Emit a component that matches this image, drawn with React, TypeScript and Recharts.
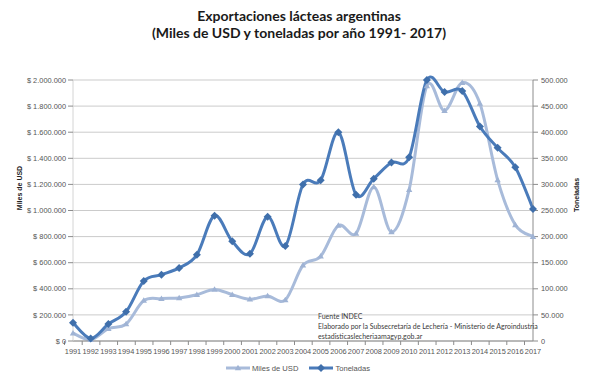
import React from 'react';
import {
  LineChart,
  Line,
  XAxis,
  YAxis,
  CartesianGrid,
  Legend,
  Label,
} from 'recharts';

const years = [
  '1991', '1992', '1993', '1994', '1995', '1996', '1997', '1998', '1999',
  '2000', '2001', '2002', '2003', '2004', '2005', '2006', '2007', '2008',
  '2009', '2010', '2011', '2012', '2013', '2014', '2015', '2016', '2017',
];

// Miles de USD (eje izquierdo)
const milesUsd = [
  60000, 10000, 95000, 130000, 310000, 325000, 330000, 355000, 395000,
  355000, 320000, 345000, 315000, 580000, 650000, 885000, 825000, 1180000,
  835000, 1160000, 1955000, 1765000, 1980000, 1820000, 1235000, 890000, 800000,
];

// Toneladas (eje derecho)
const toneladas = [
  35000, 5000, 32500, 56000, 115000, 127000, 140000, 165000, 240000,
  191000, 167000, 238000, 182000, 300000, 308000, 400000, 280000, 311000,
  342000, 352000, 500000, 477000, 479000, 411000, 370000, 333000, 253000,
];

const usdTicks = [0, 200000, 400000, 600000, 800000, 1000000, 1200000, 1400000, 1600000, 1800000, 2000000];
const tonTicks = [0, 50000, 100000, 150000, 200000, 250000, 300000, 350000, 400000, 450000, 500000];

const LIGHT = '#a8bbda';
const DARK = '#4a7bba';
const FONT = '"Liberation Sans", Arial, sans-serif';

const data = years.map((year, i) => ({
  year,
  usd: milesUsd[i],
  ton: toneladas[i],
}));

const dots = (v: number) => String(v).replace(/\B(?=(\d{3})+(?!\d))/g, '.');

// smoothing similar to the spreadsheet's "smoothed line" (catmull-rom)
function smoothCurve(context: any) {
  let pts: number[][] = [];
  return {
    areaStart() {},
    areaEnd() {},
    lineStart() {
      pts = [];
    },
    point(x: number, y: number) {
      pts.push([+x, +y]);
    },
    lineEnd() {
      if (!pts.length) return;
      context.moveTo(pts[0][0], pts[0][1]);
      for (let i = 0; i < pts.length - 1; i++) {
        const p0 = pts[i - 1] || pts[i];
        const p1 = pts[i];
        const p2 = pts[i + 1];
        const p3 = pts[i + 2] || p2;
        context.bezierCurveTo(
          p1[0] + (p2[0] - p0[0]) / 6,
          p1[1] + (p2[1] - p0[1]) / 6,
          p2[0] - (p3[0] - p1[0]) / 6,
          p2[1] - (p3[1] - p1[1]) / 6,
          p2[0],
          p2[1],
        );
      }
    },
  };
}

const Triangle = ({ cx, cy }: any) => (
  <path
    d={`M${cx},${cy - 3.2} L${cx + 3.2},${cy + 2.3} L${cx - 3.2},${cy + 2.3} Z`}
    fill="#9fb3d4"
  />
);

const Diamond = ({ cx, cy }: any) => (
  <path
    d={`M${cx},${cy - 4} L${cx + 4},${cy} L${cx},${cy + 4} L${cx - 4},${cy} Z`}
    fill="#3f6fab"
  />
);

const YearTick = ({ x, y, payload }: any) => (
  <g>
    <line x1={x - 8.5} x2={x - 8.5} y1={y} y2={y + 4} stroke="#8c8c8c" />
    <text x={x} y={y + 13} textAnchor="middle" fontSize={7.4} fill="#555">
      {payload.value}
    </text>
  </g>
);

const UsdTick = ({ x, y, payload }: any) => (
  <text x={x} y={y + 2.6} textAnchor="end" fontSize={7.4} fill="#555">
    {`$\u00a0${dots(payload.value)}`}
  </text>
);

const legendItems = [
  { name: 'Miles de USD', color: LIGHT, marker: 'tri' },
  { name: 'Toneladas', color: DARK, marker: 'dia' },
];

const LegendContent = () => (
  <div
    style={{
      display: 'flex',
      justifyContent: 'center',
      alignItems: 'center',
      gap: 10,
      height: 18,
      fontFamily: FONT,
      fontSize: 7.6,
      color: '#555',
    }}
  >
    {legendItems.map((item) => (
      <div key={item.name} style={{ display: 'flex', alignItems: 'center' }}>
        <svg width={26} height={10}>
          <line x1={1} x2={25} y1={5} y2={5} stroke={item.color} strokeWidth={3} />
          {item.marker === 'tri' ? (
            <Triangle cx={13} cy={5} />
          ) : (
            <Diamond cx={13} cy={5} />
          )}
        </svg>
        <span style={{ marginLeft: 1 }}>{item.name}</span>
      </div>
    ))}
  </div>
);

export default function App() {
  return (
    <div
      style={{
        position: 'absolute',
        left: 0,
        top: 0,
        width: 595,
        height: 377,
        background: '#fff',
        fontFamily: FONT,
      }}
    >
      <div
        style={{
          position: 'absolute',
          top: 7,
          left: 0,
          width: 598,
          textAlign: 'center',
          fontFamily: 'Lato, sans-serif',
          fontWeight: 700,
          fontSize: 14,
          lineHeight: '17px',
          color: '#1a1a1a',
        }}
      >
        Exportaciones lácteas argentinas
        <br />
        (Miles de USD y toneladas por año 1991- 2017)
      </div>

      <LineChart
        width={595}
        height={377}
        data={data}
        margin={{ top: 80, right: 0, bottom: 0, left: 0 }}
        style={{ fontFamily: FONT }}
      >
        <CartesianGrid vertical={false} stroke="#cbcbcb" yAxisId="left" />
        <XAxis
          dataKey="year"
          interval={0}
          height={18}
          tickSize={0}
          tickMargin={0}
          tick={<YearTick />}
          axisLine={{ stroke: '#8c8c8c' }}
        />
        <YAxis
          yAxisId="left"
          width={73}
          domain={[0, 2000000]}
          ticks={usdTicks}
          interval={0}
          tick={<UsdTick />}
          tickSize={5}
          tickMargin={2}
          axisLine={{ stroke: '#d4d4d4' }}
          tickLine={{ stroke: '#8c8c8c' }}
        >
          <Label
            content={() => (
              <text
                x={22}
                y={188}
                transform="rotate(-90 22 188)"
                textAnchor="middle"
                fontSize={7}
                fontWeight={700}
                fill="#222"
              >
                Miles de USD
              </text>
            )}
          />
        </YAxis>
        <YAxis
          yAxisId="right"
          orientation="right"
          width={62}
          domain={[0, 500000]}
          ticks={tonTicks}
          interval={0}
          tickFormatter={(v: number) => dots(v)}
          tick={{ fontSize: 7.4, fill: '#555', textAnchor: 'start' }}
          tickSize={5}
          tickMargin={3}
          axisLine={{ stroke: '#8c8c8c' }}
          tickLine={{ stroke: '#8c8c8c' }}
        >
          <Label
            content={() => (
              <text
                x={579}
                y={195}
                transform="rotate(-90 579 195)"
                textAnchor="middle"
                fontSize={7}
                fontWeight={700}
                fill="#222"
              >
                Toneladas
              </text>
            )}
          />
        </YAxis>
        <Legend height={18} verticalAlign="bottom" content={<LegendContent />} />
        <Line
          yAxisId="left"
          dataKey="usd"
          name="Miles de USD"
          type={smoothCurve as any}
          stroke={LIGHT}
          strokeWidth={3}
          dot={<Triangle />}
          activeDot={false}
          isAnimationActive={false}
        />
        <Line
          yAxisId="right"
          dataKey="ton"
          name="Toneladas"
          type={smoothCurve as any}
          stroke={DARK}
          strokeWidth={3}
          dot={<Diamond />}
          activeDot={false}
          isAnimationActive={false}
        />
      </LineChart>

      <div
        style={{
          position: 'absolute',
          left: 318,
          top: 311,
          fontFamily: 'Lato, sans-serif',
          fontSize: 7,
          lineHeight: '10px',
          color: '#3a3a3a',
          whiteSpace: 'nowrap',
        }}
      >
        Fuente INDEC
        <br />
        Elaborado por la Subsecretaría de Lechería - Ministerio de Agroindustria
        <br />
        estadisticaslecheriaamagyp.gob.ar
      </div>
    </div>
  );
}
